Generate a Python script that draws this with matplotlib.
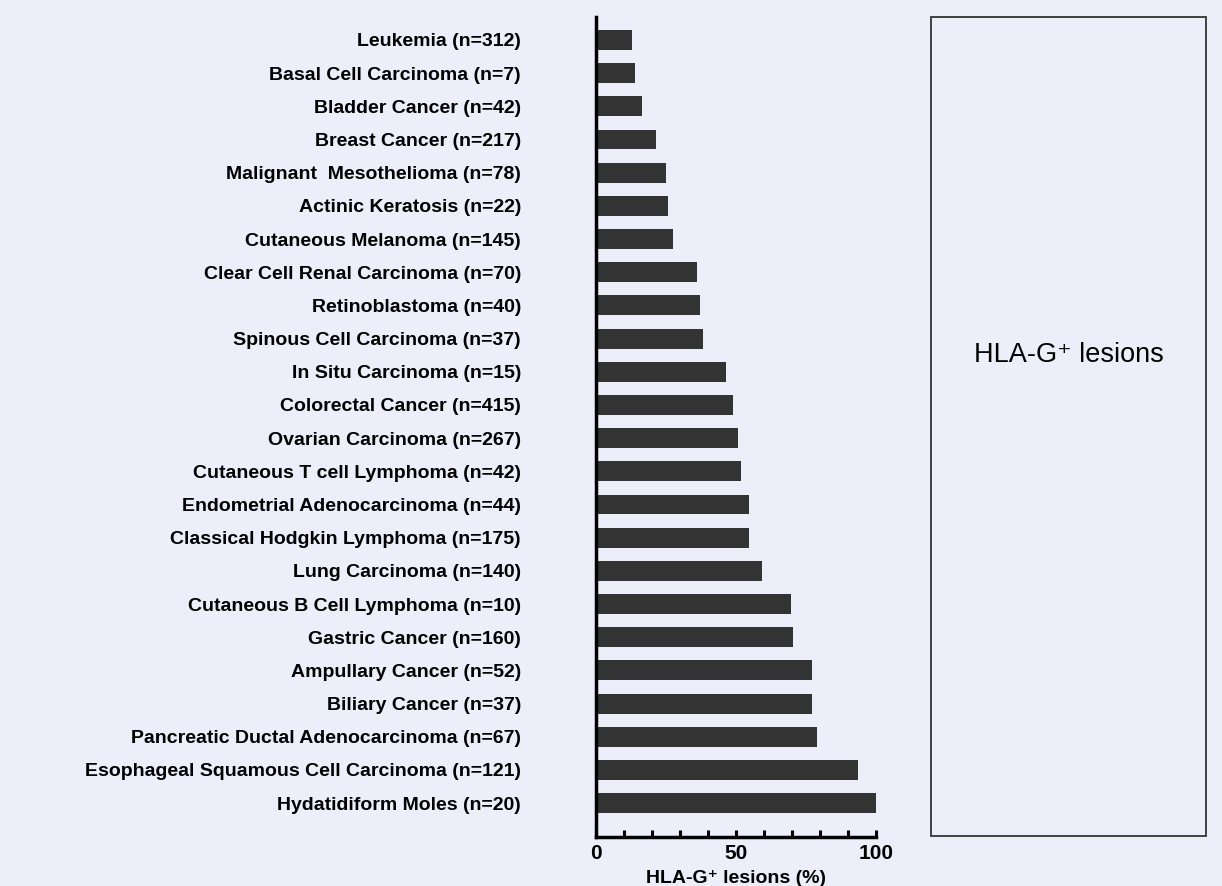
import matplotlib
matplotlib.use('Agg')
import matplotlib.pyplot as plt
from matplotlib.patches import Rectangle
from matplotlib.ticker import MultipleLocator

# lesion types with sample size, top to bottom
lesions = [
    'Leukemia (n=312)',
    'Basal Cell Carcinoma (n=7)',
    'Bladder Cancer (n=42)',
    'Breast Cancer (n=217)',
    'Malignant  Mesothelioma (n=78)',
    'Actinic Keratosis (n=22)',
    'Cutaneous Melanoma (n=145)',
    'Clear Cell Renal Carcinoma (n=70)',
    'Retinoblastoma (n=40)',
    'Spinous Cell Carcinoma (n=37)',
    'In Situ Carcinoma (n=15)',
    'Colorectal Cancer (n=415)',
    'Ovarian Carcinoma (n=267)',
    'Cutaneous T cell Lymphoma (n=42)',
    'Endometrial Adenocarcinoma (n=44)',
    'Classical Hodgkin Lymphoma (n=175)',
    'Lung Carcinoma (n=140)',
    'Cutaneous B Cell Lymphoma (n=10)',
    'Gastric Cancer (n=160)',
    'Ampullary Cancer (n=52)',
    'Biliary Cancer (n=37)',
    'Pancreatic Ductal Adenocarcinoma (n=67)',
    'Esophageal Squamous Cell Carcinoma (n=121)',
    'Hydatidiform Moles (n=20)',
]
# % HLA-G+ lesions
pct = [13, 14, 16.5, 21.5, 25, 25.7, 27.6, 36, 37, 38.2, 46.4, 48.8, 50.8, 51.9,
       54.5, 54.5, 59.4, 69.6, 70.4, 77, 77, 79, 93.6, 100.3]

bg = '#eeeefb'
plt.rcParams['font.family'] = ['Liberation Sans', 'DejaVu Sans']

fig = plt.figure(figsize=(12.22, 8.86), dpi=100, facecolor=bg)
ax = fig.add_axes([0.4877, 0.0553, 0.2291, 0.9255], facecolor=bg)

y = list(range(len(lesions)))
ax.barh(y, pct, height=0.6, color='#333333')
ax.set_ylim(len(lesions) - 1 + 1.02, -0.69)
ax.set_xlim(0, 100)

ax.set_yticks(y)
ax.set_yticklabels(lesions, fontsize=14, fontweight='bold')
ax.tick_params(axis='y', length=0, pad=54)

ax.xaxis.set_major_locator(MultipleLocator(50))
ax.xaxis.set_minor_locator(MultipleLocator(10))
ax.tick_params(axis='x', which='both', direction='in', length=5, width=2.2,
               labelsize=15, pad=5)
for t in ax.get_xticklabels():
    t.set_fontweight('bold')
ax.set_xlabel('HLA-G⁺ lesions (%)', fontsize=14, fontweight='bold', labelpad=5)

for s in ['top', 'right']:
    ax.spines[s].set_visible(False)
for s in ['left', 'bottom']:
    ax.spines[s].set_linewidth(2.5)
    ax.spines[s].set_color('black')

# legend box on the right
fig.patches.append(Rectangle((931 / 1222, 50 / 886), 275 / 1222, 819 / 886,
                             transform=fig.transFigure, fill=False,
                             edgecolor='#333333', linewidth=1.3))
fig.text(1069 / 1222, 1 - 355 / 886, 'HLA-G⁺ lesions', fontsize=19.5,
         ha='center', va='center')

fig.savefig('out.png', dpi=100, facecolor=bg)
